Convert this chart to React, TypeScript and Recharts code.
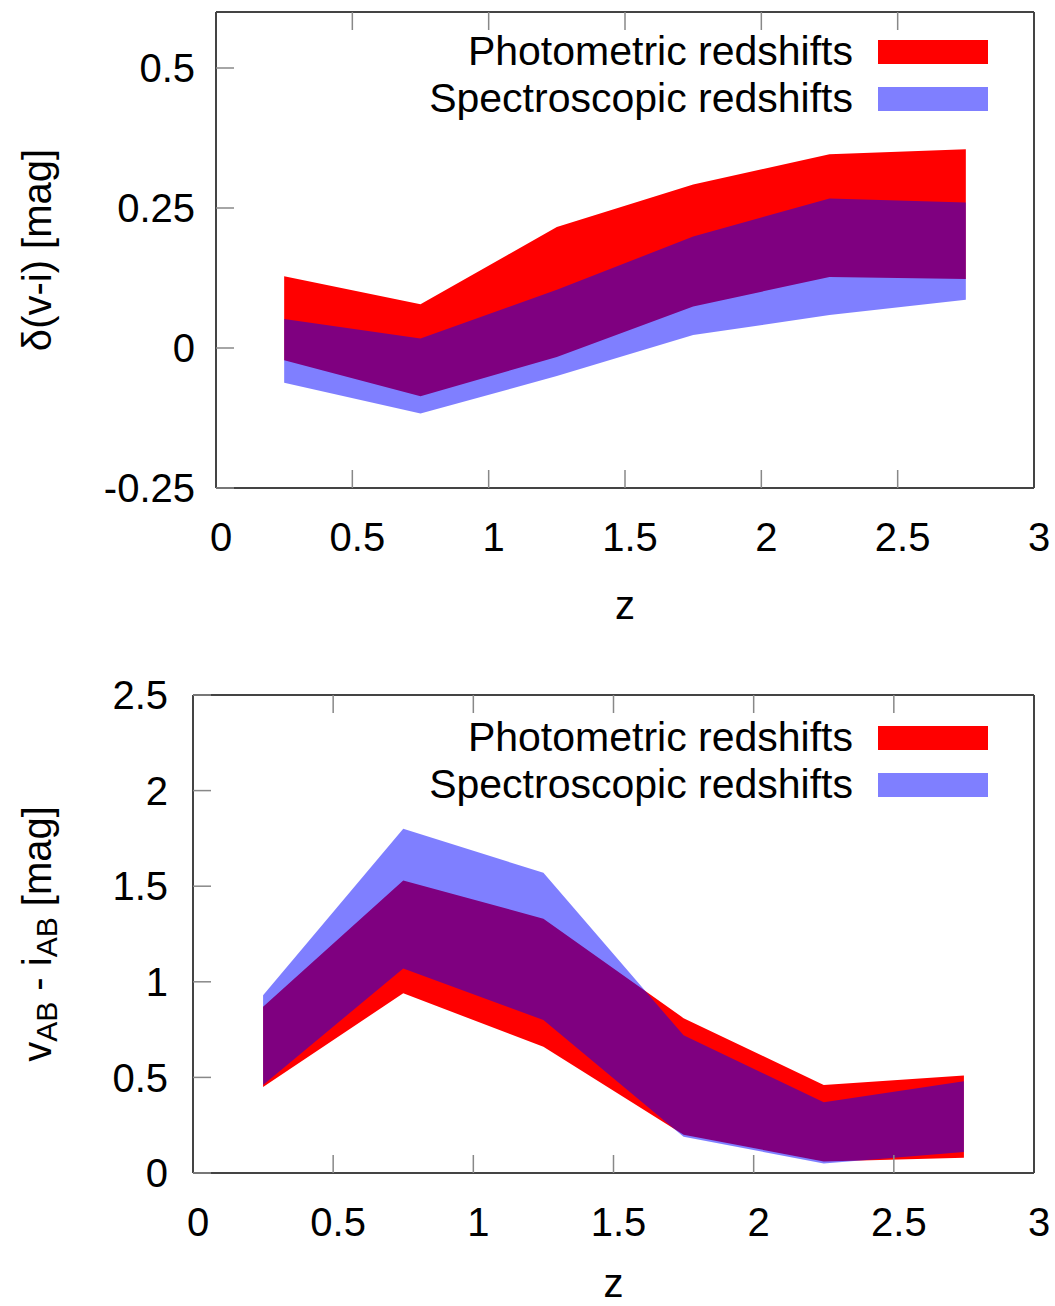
import { Area, ComposedChart, Label, Legend, XAxis, YAxis } from "recharts";

const Z = [0.25, 0.75, 1.25, 1.75, 2.25, 2.75];
const X_TICKS = [0, 0.5, 1, 1.5, 2, 2.5, 3];

// upper panel: delta(v-i)
const PHOT_LOW_1 = [-0.022, -0.086, -0.016, 0.074, 0.127, 0.123];
const PHOT_HIGH_1 = [0.128, 0.078, 0.216, 0.292, 0.346, 0.355];
const SPEC_LOW_1 = [-0.062, -0.117, -0.05, 0.023, 0.059, 0.086];
const SPEC_HIGH_1 = [0.052, 0.017, 0.104, 0.199, 0.267, 0.26];
const Y_TICKS_1 = [-0.25, 0, 0.25, 0.5];

// lower panel: v_AB - i_AB
const PHOT_LOW_2 = [0.45, 0.94, 0.66, 0.2, 0.06, 0.08];
const PHOT_HIGH_2 = [0.87, 1.53, 1.33, 0.81, 0.46, 0.51];
const SPEC_LOW_2 = [0.46, 1.07, 0.8, 0.19, 0.05, 0.11];
const SPEC_HIGH_2 = [0.93, 1.8, 1.57, 0.72, 0.37, 0.48];
const Y_TICKS_2 = [0, 0.5, 1, 1.5, 2, 2.5];

const SERIES = [
  { key: "phot", name: "Photometric redshifts", color: "#ff0000", opacity: 1 },
  { key: "spec", name: "Spectroscopic redshifts", color: "#0000ff", opacity: 0.5 },
];

const FONT = '"Liberation Sans", Arial, Helvetica, sans-serif';
const FS = 40;
const BORDER = "#444";
const TICK = "#888";
const TICK_LEN = -18;

function rows(pl: number[], ph: number[], sl: number[], sh: number[]) {
  return Z.map((z, i) => ({ z, phot: [pl[i], ph[i]], spec: [sl[i], sh[i]] }));
}

// mirrored axes: keep the tick marks, drop the labels
const noLabel = () => <g />;

function BandLegend() {
  return (
    <div style={{ fontFamily: FONT, fontSize: 41, color: "#000" }}>
      {SERIES.map((s) => (
        <div
          key={s.key}
          style={{ display: "flex", alignItems: "center", justifyContent: "flex-end", height: 47 }}
        >
          <span style={{ marginRight: 25, whiteSpace: "nowrap" }}>{s.name}</span>
          <span style={{ width: 110, height: 24, background: s.color, opacity: s.opacity }} />
        </div>
      ))}
    </div>
  );
}

function makeXTitle(dy: number) {
  return (props: any) => {
    const vb = props.viewBox;
    return (
      <text x={vb.x + vb.width / 2} y={vb.y + dy} textAnchor="middle" dominantBaseline="central"
        fontFamily={FONT} fontSize={FS} fill="#000">z</text>
    );
  };
}

function yTitleTop(props: any) {
  const vb = props.viewBox;
  const cy = vb.y + vb.height / 2;
  return (
    <text x={37} y={cy} transform={`rotate(-90 37 ${cy})`} textAnchor="middle"
      dominantBaseline="central" fontFamily={FONT} fontSize={FS} fill="#000">
      δ(v-i) [mag]
    </text>
  );
}

function yTitleBottom(props: any) {
  const vb = props.viewBox;
  const cy = vb.y + vb.height / 2;
  return (
    <text x={37} y={cy} transform={`rotate(-90 37 ${cy})`} textAnchor="middle"
      dominantBaseline="central" fontFamily={FONT} fontSize={FS} fill="#000">
      v<tspan dy={9} fontSize={30}>AB</tspan>
      <tspan dy={-9}> - i</tspan>
      <tspan dy={9} fontSize={30}>AB</tspan>
      <tspan dy={-9}> [mag]</tspan>
    </text>
  );
}

interface PanelProps {
  data: any[];
  top: number;
  height: number;
  marginTop: number;
  xHeight: number;
  xTitleDy: number;
  yWidth: number;
  yDomain: [number, number];
  yTicks: number[];
  yTickMargin: number;
  legendTop: number;
  yTitle: (p: any) => any;
}

function Panel(p: PanelProps) {
  const tickStyle = { fill: "#000", fontSize: FS, fontFamily: FONT };
  const line = { stroke: TICK, strokeWidth: 1.5 };
  const border = { stroke: BORDER, strokeWidth: 2 };
  return (
    <div style={{ position: "absolute", left: 0, top: p.top }}>
      <ComposedChart
        width={1055}
        height={p.height}
        data={p.data}
        margin={{ top: p.marginTop - 1, right: 20, bottom: 0, left: 0 }}
      >
        <XAxis xAxisId="b" dataKey="z" type="number" domain={[0, 3]} ticks={X_TICKS} interval={0}
          height={p.xHeight} tick={{ ...tickStyle, dx: 5 }} tickSize={TICK_LEN} tickMargin={53}
          tickLine={line} axisLine={border}>
          <Label content={makeXTitle(p.xTitleDy)} />
        </XAxis>
        <XAxis xAxisId="t" orientation="top" dataKey="z" type="number" domain={[0, 3]} ticks={X_TICKS}
          interval={0} height={1} tick={noLabel} tickSize={TICK_LEN} tickLine={line} axisLine={border} />
        <YAxis yAxisId="l" type="number" domain={p.yDomain} ticks={p.yTicks} interval={0}
          width={p.yWidth} tick={tickStyle} tickSize={TICK_LEN} tickMargin={p.yTickMargin}
          tickLine={line} axisLine={border}>
          <Label content={p.yTitle} />
        </YAxis>
        <YAxis yAxisId="r" orientation="right" type="number" domain={p.yDomain} ticks={p.yTicks}
          interval={0} width={1} tick={noLabel} tickSize={TICK_LEN} tickLine={line} axisLine={border} />
        {SERIES.map((s) => (
          <Area key={s.key} xAxisId="b" yAxisId="l" dataKey={s.key} name={s.name} type="linear"
            stroke="none" fill={s.color} fillOpacity={s.opacity} isAnimationActive={false} />
        ))}
        <Legend layout="vertical" verticalAlign="middle" align="center" content={BandLegend}
          wrapperStyle={{ left: 420, top: p.legendTop, width: 568 }} />
      </ComposedChart>
    </div>
  );
}

export default function App() {
  return (
    <div style={{ position: "absolute", left: 0, top: 0, width: 1055, height: 1306, background: "#fff", overflow: "hidden" }}>
      <Panel
        data={rows(PHOT_LOW_1, PHOT_HIGH_1, SPEC_LOW_1, SPEC_HIGH_1)}
        top={0}
        height={640}
        marginTop={12}
        xHeight={152}
        xTitleDy={117}
        yWidth={216}
        yDomain={[-0.25, 0.6]}
        yTicks={Y_TICKS_1}
        yTickMargin={39}
        legendTop={28}
        yTitle={yTitleTop}
      />
      <Panel
        data={rows(PHOT_LOW_2, PHOT_HIGH_2, SPEC_LOW_2, SPEC_HIGH_2)}
        top={660}
        height={646}
        marginTop={35}
        xHeight={133}
        xTitleDy={110}
        yWidth={193}
        yDomain={[0, 2.5]}
        yTicks={Y_TICKS_2}
        yTickMargin={43}
        legendTop={54}
        yTitle={yTitleBottom}
      />
    </div>
  );
}
